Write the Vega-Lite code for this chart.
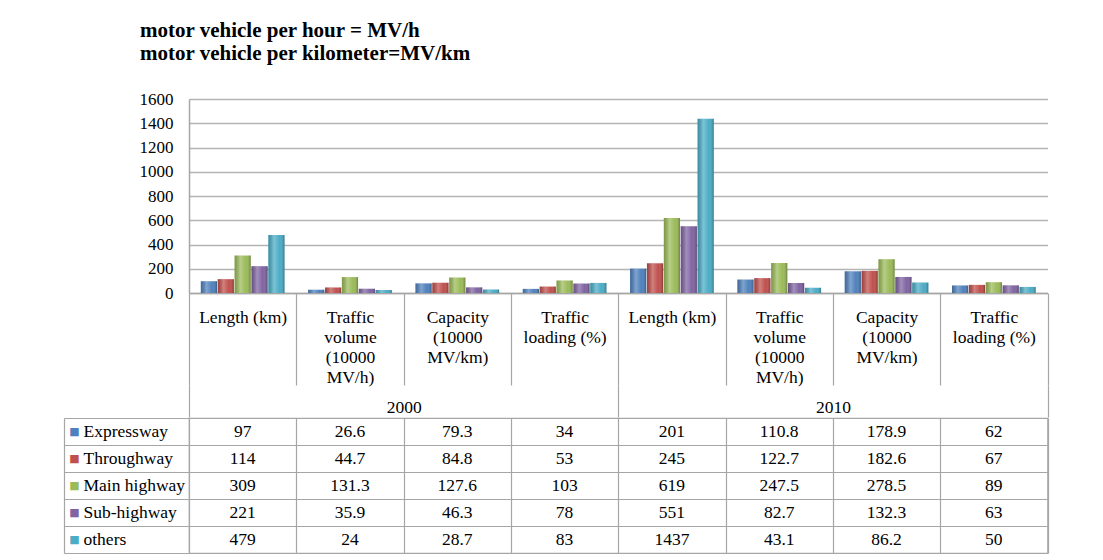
{
  "$schema": "https://vega.github.io/schema/vega-lite/v6.json",
  "padding": {"left": 62, "top": 20, "right": 10, "bottom": 5},
  "background": "white",
  "config": {"font": "Liberation Serif", "axis": {"labelColor": "black", "labelFontSize": 17.5, "labelFont": "Liberation Serif"}},
  "title": {
    "text": ["motor vehicle per hour = MV/h", "motor vehicle per kilometer=MV/km"],
    "anchor": "start", "frame": "group", "dx": -49, "offset": 26,
    "font": "Liberation Serif", "fontSize": 21, "fontWeight": "bold", "lineHeight": 23, "color": "black"
  },
  "data": {"values": [
    {"year": "2000", "col": "2000|Length (km)", "series": "Expressway", "value": 97},
    {"year": "2000", "col": "2000|Length (km)", "series": "Throughway", "value": 114},
    {"year": "2000", "col": "2000|Length (km)", "series": "Main highway", "value": 309},
    {"year": "2000", "col": "2000|Length (km)", "series": "Sub-highway", "value": 221},
    {"year": "2000", "col": "2000|Length (km)", "series": "others", "value": 479},
    {"year": "2000", "col": "2000|Traffic|volume|(10000|MV/h)", "series": "Expressway", "value": 26.6},
    {"year": "2000", "col": "2000|Traffic|volume|(10000|MV/h)", "series": "Throughway", "value": 44.7},
    {"year": "2000", "col": "2000|Traffic|volume|(10000|MV/h)", "series": "Main highway", "value": 131.3},
    {"year": "2000", "col": "2000|Traffic|volume|(10000|MV/h)", "series": "Sub-highway", "value": 35.9},
    {"year": "2000", "col": "2000|Traffic|volume|(10000|MV/h)", "series": "others", "value": 24},
    {"year": "2000", "col": "2000|Capacity|(10000|MV/km)", "series": "Expressway", "value": 79.3},
    {"year": "2000", "col": "2000|Capacity|(10000|MV/km)", "series": "Throughway", "value": 84.8},
    {"year": "2000", "col": "2000|Capacity|(10000|MV/km)", "series": "Main highway", "value": 127.6},
    {"year": "2000", "col": "2000|Capacity|(10000|MV/km)", "series": "Sub-highway", "value": 46.3},
    {"year": "2000", "col": "2000|Capacity|(10000|MV/km)", "series": "others", "value": 28.7},
    {"year": "2000", "col": "2000|Traffic|loading (%)", "series": "Expressway", "value": 34},
    {"year": "2000", "col": "2000|Traffic|loading (%)", "series": "Throughway", "value": 53},
    {"year": "2000", "col": "2000|Traffic|loading (%)", "series": "Main highway", "value": 103},
    {"year": "2000", "col": "2000|Traffic|loading (%)", "series": "Sub-highway", "value": 78},
    {"year": "2000", "col": "2000|Traffic|loading (%)", "series": "others", "value": 83},
    {"year": "2010", "col": "2010|Length (km)", "series": "Expressway", "value": 201},
    {"year": "2010", "col": "2010|Length (km)", "series": "Throughway", "value": 245},
    {"year": "2010", "col": "2010|Length (km)", "series": "Main highway", "value": 619},
    {"year": "2010", "col": "2010|Length (km)", "series": "Sub-highway", "value": 551},
    {"year": "2010", "col": "2010|Length (km)", "series": "others", "value": 1437},
    {"year": "2010", "col": "2010|Traffic|volume|(10000|MV/h)", "series": "Expressway", "value": 110.8},
    {"year": "2010", "col": "2010|Traffic|volume|(10000|MV/h)", "series": "Throughway", "value": 122.7},
    {"year": "2010", "col": "2010|Traffic|volume|(10000|MV/h)", "series": "Main highway", "value": 247.5},
    {"year": "2010", "col": "2010|Traffic|volume|(10000|MV/h)", "series": "Sub-highway", "value": 82.7},
    {"year": "2010", "col": "2010|Traffic|volume|(10000|MV/h)", "series": "others", "value": 43.1},
    {"year": "2010", "col": "2010|Capacity|(10000|MV/km)", "series": "Expressway", "value": 178.9},
    {"year": "2010", "col": "2010|Capacity|(10000|MV/km)", "series": "Throughway", "value": 182.6},
    {"year": "2010", "col": "2010|Capacity|(10000|MV/km)", "series": "Main highway", "value": 278.5},
    {"year": "2010", "col": "2010|Capacity|(10000|MV/km)", "series": "Sub-highway", "value": 132.3},
    {"year": "2010", "col": "2010|Capacity|(10000|MV/km)", "series": "others", "value": 86.2},
    {"year": "2010", "col": "2010|Traffic|loading (%)", "series": "Expressway", "value": 62},
    {"year": "2010", "col": "2010|Traffic|loading (%)", "series": "Throughway", "value": 67},
    {"year": "2010", "col": "2010|Traffic|loading (%)", "series": "Main highway", "value": 89},
    {"year": "2010", "col": "2010|Traffic|loading (%)", "series": "Sub-highway", "value": 63},
    {"year": "2010", "col": "2010|Traffic|loading (%)", "series": "others", "value": 50}
  ]},
  "spacing": -10,
  "vconcat": [
    {
      "width": 858.5,
      "height": 194,
      "view": {"stroke": null},
      "layer": [
        {
          "mark": {"type": "bar"},
          "encoding": {
            "x": {"field": "col", "type": "nominal", "sort": null,
              "scale": {"type": "band", "paddingInner": 0, "paddingOuter": 0},
              "axis": {"orient": "bottom", "title": null, "domain": true, "domainColor": "#a6a6a6", "domainWidth": 1.5,
                "ticks": true, "tickBand": "extent", "tickSize": 92, "tickColor": "#a6a6a6", "tickWidth": 1.2, "grid": false,
                "labelExpr": "slice(split(datum.label, '|'), 1)", "labelBaseline": "alphabetic", "labelPadding": -63,
                "labelLineHeight": 20, "labelLimit": 0, "labelAngle": 0}},
            "xOffset": {"field": "series", "type": "nominal", "sort": null, "scale": {"paddingInner": 0.04, "paddingOuter": 0.7}},
            "y": {"field": "value", "type": "quantitative", "scale": {"domain": [0, 1600], "nice": false},
              "axis": {"title": null, "values": [0, 200, 400, 600, 800, 1000, 1200, 1400, 1600], "format": "d", "labelOverlap": false,
                "labelFontSize": 17, "domain": true, "domainColor": "#a6a6a6", "domainWidth": 1.5,
                "ticks": false, "grid": true, "gridColor": "#b4b4b4", "gridWidth": 1.5, "labelPadding": 16, "minExtent": 125, "maxExtent": 125}},
            "color": {"field": "series", "type": "nominal", "sort": null,
              "scale": {"domain": ["Expressway", "Throughway", "Main highway", "Sub-highway", "others"],
                "range": ["#4F81BD", "#C0504D", "#9BBB59", "#8064A2", "#4BACC6"]}, "legend": null}
          }
        },
        {
          "mark": {"type": "bar", "fill": {"gradient": "linear", "x1": 0, "x2": 1, "y1": 0, "y2": 0,
            "stops": [{"offset": 0, "color": "rgba(0,0,0,0.18)"}, {"offset": 0.35, "color": "rgba(255,255,255,0.28)"}, {"offset": 0.7, "color": "rgba(255,255,255,0)"}, {"offset": 1, "color": "rgba(0,0,0,0.3)"}]}},
          "encoding": {
            "x": {"field": "col", "type": "nominal", "sort": null, "scale": {"type": "band", "paddingInner": 0, "paddingOuter": 0}, "axis": null},
            "xOffset": {"field": "series", "type": "nominal", "sort": null, "scale": {"paddingInner": 0.04, "paddingOuter": 0.7}},
            "y": {"field": "value", "type": "quantitative",
              "axis": {"title": null, "values": [0, 200, 400, 600, 800, 1000, 1200, 1400, 1600], "format": "d", "labelOverlap": false,
                "labelFontSize": 17, "domain": true, "domainColor": "#a6a6a6", "domainWidth": 1.5,
                "ticks": false, "grid": true, "gridColor": "#b4b4b4", "gridWidth": 1.5, "labelPadding": 16, "minExtent": 125, "maxExtent": 125}}
          }
        },
        {
          "mark": {"type": "rule", "opacity": 0},
          "encoding": {
            "x": {"field": "year", "type": "nominal", "scale": {"type": "band", "paddingInner": 0, "paddingOuter": 0},
              "axis": {"orient": "bottom", "offset": 92, "title": null, "domain": false, "ticks": true, "tickBand": "extent",
                "tickSize": 32, "tickColor": "#a6a6a6", "tickWidth": 1.2, "grid": false, "labelBaseline": "alphabetic", "labelPadding": -5, "labelAngle": 0}}
          }
        }
      ],
      "resolve": {"scale": {"x": "independent"}, "axis": {"x": "independent"}}
    },
    {
      "width": 858.5,
      "height": 135,
      "view": {"stroke": "#a6a6a6", "strokeWidth": 1.2},
      "layer": [
        {
          "mark": {"type": "text", "fontSize": 17.5, "font": "Liberation Serif", "color": "black"},
          "encoding": {
            "x": {"field": "col", "type": "nominal", "sort": null, "scale": {"type": "band", "paddingInner": 0, "paddingOuter": 0},
              "axis": {"orient": "bottom", "grid": true, "tickBand": "extent", "labels": false, "ticks": false, "domain": false, "title": null, "gridColor": "#a6a6a6", "gridWidth": 1.2, "minExtent": 0, "maxExtent": 0}},
            "y": {"field": "series", "type": "nominal", "sort": null, "scale": {"type": "band", "paddingInner": 0, "paddingOuter": 0},
              "axis": {"orient": "left", "title": null, "domain": false, "ticks": true, "tickBand": "extent", "tickSize": 125, "tickColor": "#a6a6a6", "tickWidth": 1.2,
                "grid": true, "gridColor": "#a6a6a6", "gridWidth": 1.2, "labelAlign": "left", "labelBaseline": "middle", "labelPadding": -19, "labelLimit": 0}},
            "text": {"field": "value", "type": "quantitative"}
          }
        },
        {
          "mark": {"type": "text", "opacity": 0},
          "encoding": {
            "y": {"field": "series", "type": "nominal", "sort": null, "scale": {"type": "band", "paddingInner": 0, "paddingOuter": 0},
              "axis": {"orient": "left", "offset": 125, "title": null, "domain": true, "domainColor": "#a6a6a6", "domainWidth": 1.2, "ticks": false, "grid": false,
                "labelExpr": "'■'", "labelFont": "DejaVu Sans", "labelFontSize": 11, "labelAlign": "center", "labelBaseline": "middle", "labelPadding": -10,
                "labelColor": {"condition": [
                  {"test": "datum.value === 'Expressway'", "value": "#4F81BD"},
                  {"test": "datum.value === 'Throughway'", "value": "#C0504D"},
                  {"test": "datum.value === 'Main highway'", "value": "#9BBB59"},
                  {"test": "datum.value === 'Sub-highway'", "value": "#8064A2"}], "value": "#4BACC6"}}},
            "text": {"value": ""}
          }
        }
      ],
      "resolve": {"axis": {"y": "independent"}}
    }
  ]
}
